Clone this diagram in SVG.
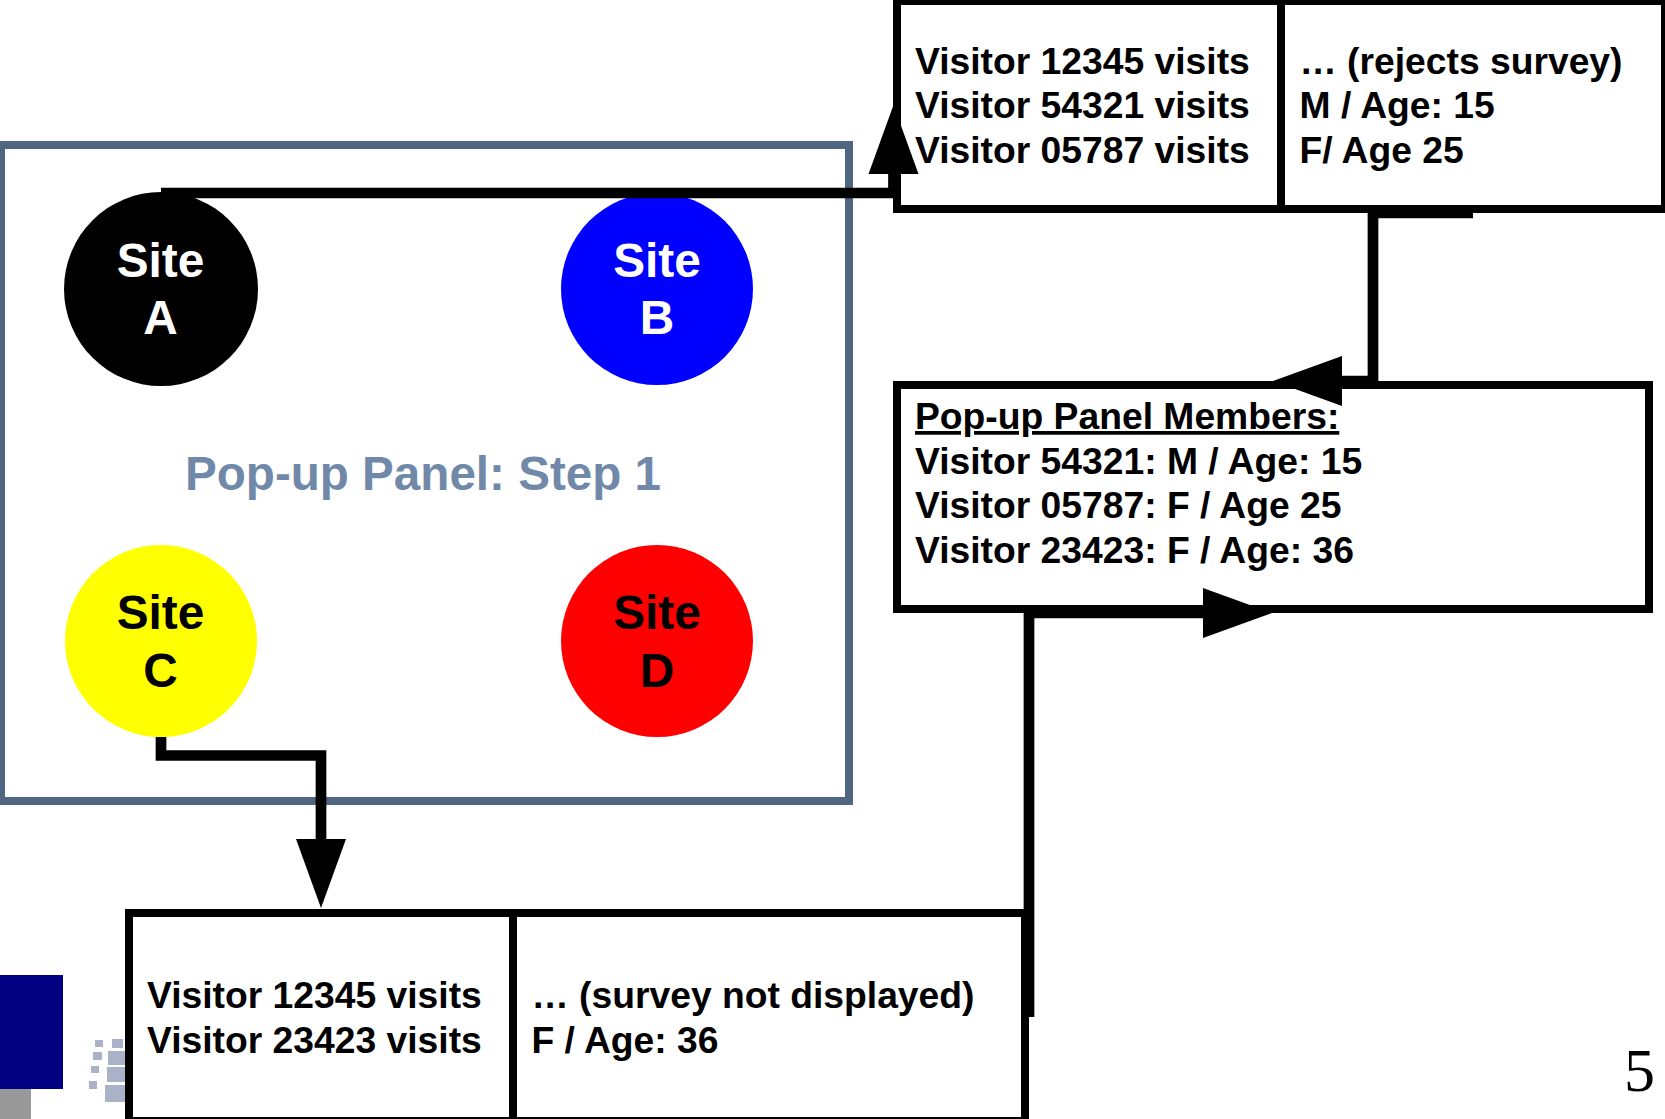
<svg xmlns="http://www.w3.org/2000/svg" width="1665" height="1119" viewBox="0 0 1665 1119">
<style>
text{font-family:"Liberation Sans",Arial,sans-serif;font-weight:bold}
.box{fill:#fff;stroke:#000;stroke-width:8}
.div{stroke:#000;stroke-width:8;fill:none}
.t{font-size:37.25px;fill:#000}
.site{font-size:47.8px;text-anchor:middle}
.conn{fill:none;stroke:#000;stroke-width:10.7;marker-end:url(#arrow)}
.sq{fill:#aab2c8}
</style>
<defs>
<marker id="arrow" markerUnits="userSpaceOnUse" markerWidth="70" markerHeight="50" refX="0" refY="25" orient="auto" overflow="visible"><polygon points="0,0 69,25 0,50" fill="#000"/></marker>
</defs>
<rect width="1665" height="1119" fill="#fff"/>
<g id="corner-decor">
<rect x="0" y="975" width="63" height="114" fill="#000080"/>
<rect x="0" y="1089" width="31" height="30" fill="#999"/>
<g id="logo">
<rect class="sq" x="95" y="1040" width="8" height="7"/>
<rect class="sq" x="112" y="1039" width="11" height="9"/>
<rect class="sq" x="93" y="1052" width="9" height="8"/>
<rect class="sq" x="108" y="1051" width="18" height="14"/>
<rect class="sq" x="91" y="1066" width="8" height="7"/>
<rect class="sq" x="107" y="1067" width="18" height="15"/>
<rect class="sq" x="89" y="1081" width="8" height="8"/>
<rect class="sq" x="105" y="1085" width="20" height="17"/>
</g>
</g>
<g id="panel">
<rect x="1" y="145" width="848" height="656" fill="none" stroke="#4f6580" stroke-width="8"/>
<text x="185" y="490" font-size="47.6px" fill="#7189a9">Pop-up Panel: Step 1</text>
</g>
<g id="site-a">
<circle cx="161" cy="289" r="97" fill="#000"/>
<text class="site" x="160.5" y="277" fill="#fff">Site</text>
<text class="site" x="160.5" y="334" fill="#fff">A</text>
</g>
<g id="site-b">
<circle cx="657" cy="289" r="96" fill="#00f"/>
<text class="site" x="657" y="277" fill="#fff">Site</text>
<text class="site" x="657" y="334" fill="#fff">B</text>
</g>
<g id="site-c">
<circle cx="161" cy="641" r="96" fill="#ff0"/>
<text class="site" x="160.5" y="629" fill="#000">Site</text>
<text class="site" x="160.5" y="687" fill="#000">C</text>
</g>
<g id="site-d">
<circle cx="657" cy="641" r="96" fill="#f00"/>
<text class="site" x="657" y="629" fill="#000">Site</text>
<text class="site" x="657" y="687" fill="#000">D</text>
</g>
<g id="box-top">
<rect class="box" x="897" y="1" width="768" height="208"/>
<line class="div" x1="1281" y1="1" x2="1281" y2="209"/>
<text class="t" x="915" y="74">Visitor 12345 visits</text>
<text class="t" x="915" y="118">Visitor 54321 visits</text>
<text class="t" x="915" y="163">Visitor 05787 visits</text>
<text class="t" x="1299.5" y="74">… (rejects survey)</text>
<text class="t" x="1299.5" y="118">M / Age: 15</text>
<text class="t" x="1299.5" y="163">F/ Age 25</text>
</g>
<g id="box-members">
<rect class="box" x="897" y="385" width="752" height="224"/>
<text class="t" x="915" y="429" text-decoration="underline">Pop-up Panel Members:</text>
<text class="t" x="915" y="474">Visitor 54321: M / Age: 15</text>
<text class="t" x="915" y="518">Visitor 05787: F / Age 25</text>
<text class="t" x="915" y="563">Visitor 23423: F / Age: 36</text>
</g>
<g id="box-bottom">
<rect class="box" x="129" y="913" width="896" height="208"/>
<line class="div" x1="513" y1="913" x2="513" y2="1121"/>
<text class="t" x="147" y="1008">Visitor 12345 visits</text>
<text class="t" x="147" y="1053">Visitor 23423 visits</text>
<text class="t" x="531.5" y="1008">… (survey not displayed)</text>
<text class="t" x="531.5" y="1053">F / Age: 36</text>
</g>
<g id="connectors">
<path class="conn" d="M161 193H893.5V174"/>
<path class="conn" d="M1473 213H1373V381H1342"/>
<path class="conn" d="M1029 1017V613H1203"/>
<path class="conn" d="M161 737V755.5H321V839"/>
</g>
<g id="page-number">
<text x="1624" y="1091" font-size="62px" style="font-family:'Liberation Serif','Times New Roman',serif;font-weight:normal">5</text>
</g>
</svg>
